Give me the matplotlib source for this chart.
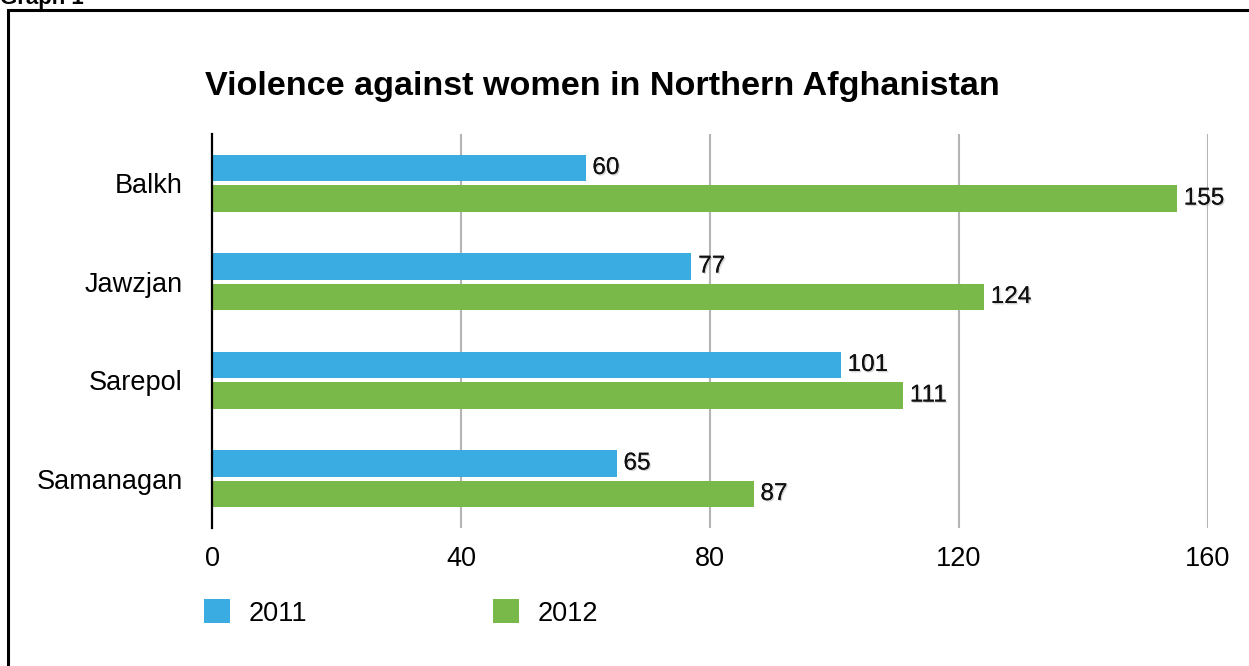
import matplotlib
matplotlib.use("Agg")
from matplotlib import pyplot as plt
from matplotlib.patches import Rectangle
import matplotlib.patheffects as pe
import numpy as np

plt.rcParams['font.family'] = ['Liberation Sans', 'DejaVu Sans']

provinces = ["Balkh", "Jawzjan", "Sarepol", "Samanagan"]
years = ["2011", "2012"]
vals_2011 = [60, 77, 101, 65]
vals_2012 = [155, 124, 111, 87]
xticks = [0, 40, 80, 120, 160]

blue = "#3AACE2"
green = "#79B94A"

W, H = 1249, 666
fig = plt.figure(figsize=(W / 100, H / 100), dpi=100)

# outer frame (cut off at right/bottom like the scan)
fig.patches.append(Rectangle((8 / W, -0.1), 1.2, 1 - 10 / H + 0.1, transform=fig.transFigure,
                             fill=False, edgecolor="black", linewidth=2.2))
fig.text(0.0, 1 - 4 / H, "Graph 1", fontsize=16, fontweight="bold", va="baseline", ha="left")

ax = fig.add_axes([212 / W, 1 - 528 / H, (1208 - 212) / W, (528 - 134) / H])

y = np.arange(len(provinces))
bh = 0.27
off = 0.155
b1 = ax.barh(y - off, vals_2011, height=bh, color=blue, label=years[0])
b2 = ax.barh(y + off, vals_2012, height=bh, color=green, label=years[1])

shadow = [pe.withSimplePatchShadow(offset=(1.0, -1.0), shadow_rgbFace="#999999", alpha=0.4), pe.Normal()]
for bars, vals in [(b1, vals_2011), (b2, vals_2012)]:
    for rect, v in zip(bars, vals):
        ax.text(v + 1.1, rect.get_y() + rect.get_height() / 2, str(v), va="center", ha="left",
                fontsize=17.5, color="#111111", path_effects=shadow, clip_on=False)

ax.set_xlim(0, 160)
ax.set_ylim(len(provinces) - 0.5, -0.5)
ax.set_xticks(xticks)
ax.set_xticklabels([str(t) for t in xticks], fontsize=19.5)
ax.set_yticks(y)
ax.set_yticklabels(provinces, fontsize=19.5)
ax.tick_params(axis="x", length=0, pad=13)
ax.tick_params(axis="y", length=0, pad=21)
for t in xticks[1:]:
    ax.axvline(t, color="#B4B4B4", linewidth=1.5, zorder=0)
for s in ["top", "right", "bottom"]:
    ax.spines[s].set_visible(False)
ax.spines["left"].set_linewidth(1.6)
ax.spines["left"].set_color("black")

fig.text(205 / W, 1 - 86 / H, "Violence against women in Northern Afghanistan",
         fontsize=24.6, fontweight="bold", va="center", ha="left")

fig.legend(handles=[b1, b2], labels=years, loc="center left", bbox_to_anchor=(204 / W, 1 - 613 / H),
           ncol=2, frameon=False, fontsize=19.5, handlelength=0.96, handleheight=0.96,
           handletextpad=0.7, columnspacing=6.85, borderpad=0, borderaxespad=0)

plt.savefig("out.png", dpi=100)
